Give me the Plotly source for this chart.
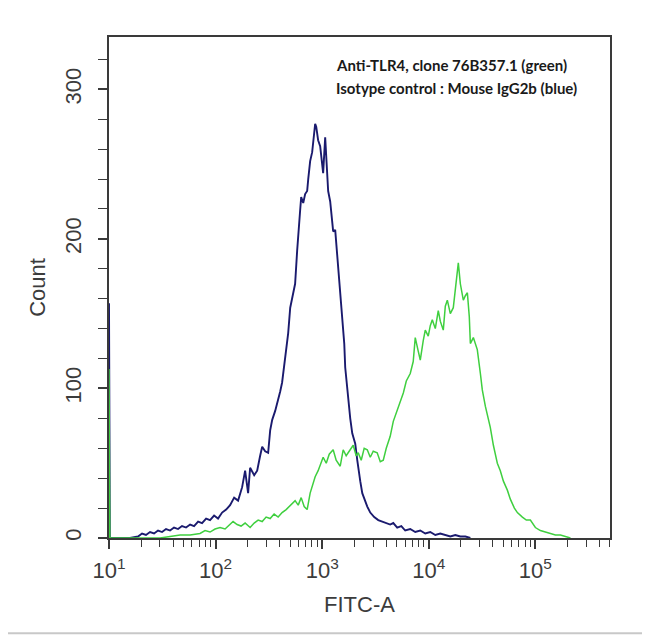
import numpy as np
import plotly.graph_objects as go

# ---- data (log10 of FITC-A intensity, counts) ----
blue_log10 = [1.000, 1.000, 1.008, 1.197, 1.272, 1.310, 1.347, 1.385, 1.423, 1.460, 1.498, 1.535,
              1.573, 1.610, 1.648, 1.685, 1.723, 1.761, 1.798, 1.836, 1.873, 1.911, 1.948,
              1.986, 2.023, 2.061, 2.099, 2.136, 2.174, 2.211, 2.249, 2.277, 2.305, 2.324,
              2.362, 2.390, 2.418, 2.437, 2.465, 2.493, 2.512, 2.531, 2.559, 2.587, 2.606,
              2.624, 2.643, 2.653, 2.671, 2.681, 2.700, 2.718, 2.737, 2.746, 2.765, 2.775,
              2.793, 2.803, 2.822, 2.840, 2.859, 2.869, 2.887, 2.906, 2.925, 2.934, 2.944,
              2.962, 2.981, 3.000, 3.009, 3.028, 3.038, 3.056, 3.075, 3.094, 3.103, 3.122,
              3.141, 3.150, 3.169, 3.188, 3.207, 3.216, 3.235, 3.244, 3.263, 3.282, 3.300,
              3.310, 3.329, 3.338, 3.357, 3.376, 3.404, 3.423, 3.451, 3.488, 3.526, 3.563,
              3.601, 3.638, 3.667, 3.704, 3.742, 3.779, 3.826, 3.873, 3.920, 3.967, 4.014,
              4.061, 4.108, 4.155, 4.202, 4.249, 4.296, 4.343, 4.390]
blue_count = [0, 157, 0, 0, 1, 3, 2, 4, 3, 5, 4, 6,
              5, 7, 6, 8, 7, 9, 8, 11, 10, 13, 12,
              15, 13, 17, 19, 22, 27, 25, 34, 45, 30, 47,
              42, 45, 55, 61, 58, 57, 72, 79, 85, 92, 98,
              104, 115, 124, 132, 137, 154, 160, 168, 170, 192, 200,
              219, 228, 224, 230, 232, 240, 252, 258, 270, 277, 275,
              266, 262, 250, 244, 268, 255, 232, 225, 214, 205, 206,
              190, 181, 165, 148, 130, 114, 100, 92, 80, 70, 66,
              63, 52, 47, 38, 30, 24, 21, 17, 14, 12, 11,
              10, 9, 10, 7, 8, 5, 6, 4, 5, 3, 4,
              2, 3, 2, 1, 2, 1, 1, 0]

green_log10 = [1.000, 1.000, 1.008, 1.479, 1.573, 1.667, 1.761, 1.854, 1.901, 1.948, 1.995,
               2.042, 2.089, 2.136, 2.164, 2.202, 2.239, 2.277, 2.324, 2.362, 2.399,
               2.437, 2.474, 2.512, 2.549, 2.587, 2.624, 2.662, 2.700, 2.728, 2.746,
               2.775, 2.803, 2.831, 2.859, 2.887, 2.915, 2.934, 2.962, 2.981, 3.009,
               3.038, 3.066, 3.103, 3.131, 3.169, 3.197, 3.225, 3.263, 3.291, 3.319,
               3.338, 3.366, 3.394, 3.423, 3.451, 3.479, 3.516, 3.545, 3.573, 3.601,
               3.638, 3.667, 3.704, 3.732, 3.761, 3.789, 3.826, 3.854, 3.873, 3.901,
               3.920, 3.948, 3.967, 3.995, 4.014, 4.033, 4.061, 4.089, 4.108, 4.136,
               4.155, 4.174, 4.202, 4.230, 4.249, 4.277, 4.296, 4.324, 4.343, 4.362,
               4.380, 4.390, 4.418, 4.455, 4.484, 4.502, 4.531, 4.559, 4.577, 4.606,
               4.643, 4.671, 4.700, 4.737, 4.765, 4.803, 4.831, 4.878, 4.915, 4.953,
               5.000, 5.047, 5.094, 5.141, 5.188, 5.235, 5.282, 5.329]
green_count = [0, 113, 0, 0, 1, 2, 2, 3, 5, 4, 6,
               7, 6, 9, 11, 9, 8, 10, 7, 10, 12,
               11, 14, 13, 16, 14, 17, 19, 22, 24, 25,
               22, 27, 21, 19, 30, 36, 41, 45, 49, 54,
               50, 56, 59, 52, 48, 59, 55, 59, 62, 55,
               57, 52, 60, 59, 54, 58, 57, 51, 52, 60,
               68, 78, 86, 92, 97, 105, 110, 118, 134, 125,
               119, 132, 139, 135, 142, 146, 140, 152, 145, 139,
               155, 159, 150, 154, 165, 184, 170, 159, 162, 164,
               148, 130, 134, 126, 110, 99, 88, 80, 74, 62,
               50, 45, 38, 32, 26, 20, 17, 14, 12, 12,
               7, 5, 4, 3, 2, 2, 1, 0]

x_tick_vals = [1e1, 1e2, 1e3, 1e4, 1e5]
x_tick_text = ["10<sup>1</sup>", "10<sup>2</sup>", "10<sup>3</sup>", "10<sup>4</sup>", "10<sup>5</sup>"]
y_tick_vals = [0, 100, 200, 300]

annotation_lines = ["Anti-TLR4, clone 76B357.1 (green)", "Isotype control : Mouse IgG2b (blue)"]

minor_x = [m * 10 ** d for d in range(1, 6) for m in range(2, 10) if m * 10 ** d <= 5e5]

fig = go.Figure()
fig.add_trace(go.Scatter(x=np.power(10.0, blue_log10), y=blue_count, mode="lines",
                         line=dict(color="#1a1a6e", width=1.9), showlegend=False))
fig.add_trace(go.Scatter(x=np.power(10.0, green_log10), y=green_count, mode="lines",
                         line=dict(color="#3fcf3f", width=1.5), showlegend=False))

axis_font = dict(family="Liberation Sans, Arial, sans-serif", size=22, color="#3c3c3c")

fig.update_xaxes(type="log", range=[1, 5.70], showgrid=False, zeroline=False,
                 showline=True, linecolor="#3a3a3a", linewidth=2, mirror=True,
                 ticks="outside", ticklen=9, tickwidth=1.5, tickcolor="#3a3a3a",
                 tickvals=x_tick_vals, ticktext=x_tick_text, tickfont=axis_font,
                 ticklabelstandoff=3,
                 minor=dict(ticks="outside", ticklen=7, tickwidth=1.3, tickcolor="#3a3a3a",
                            tickmode="array", tickvals=minor_x),
                 title=dict(text="FITC-A", font=axis_font, standoff=14))
fig.update_yaxes(range=[0, 335], showgrid=False, zeroline=False,
                 showline=True, linecolor="#3a3a3a", linewidth=2, mirror=True,
                 ticks="outside", ticklen=9, tickwidth=1.5, tickcolor="#3a3a3a",
                 tickvals=y_tick_vals, tickangle=-90, tickfont=axis_font,
                 ticklabelstandoff=8,
                 minor=dict(ticks="outside", ticklen=9, tickwidth=1.3, tickcolor="#3a3a3a",
                            dtick=20),
                 title=dict(text="Count", font=axis_font, standoff=10))

for i, line in enumerate(annotation_lines):
    fig.add_annotation(text="<b>" + line + "</b>", xref="paper", yref="paper",
                       x=0.45, y=0.944 - i * 0.046, xanchor="left", yanchor="middle",
                       showarrow=False,
                       font=dict(family="Lato, Liberation Sans, sans-serif", size=15, color="#1a1a1a"))

fig.add_shape(type="line", xref="paper", yref="paper", x0=-0.25, x1=1.1, y0=-0.19, y1=-0.19,
              line=dict(color="#c8c8c8", width=2))

fig.update_layout(width=650, height=639, margin=dict(l=101, r=48, t=29, b=109),
                  paper_bgcolor="white", plot_bgcolor="white")

fig.write_html("out.html")
